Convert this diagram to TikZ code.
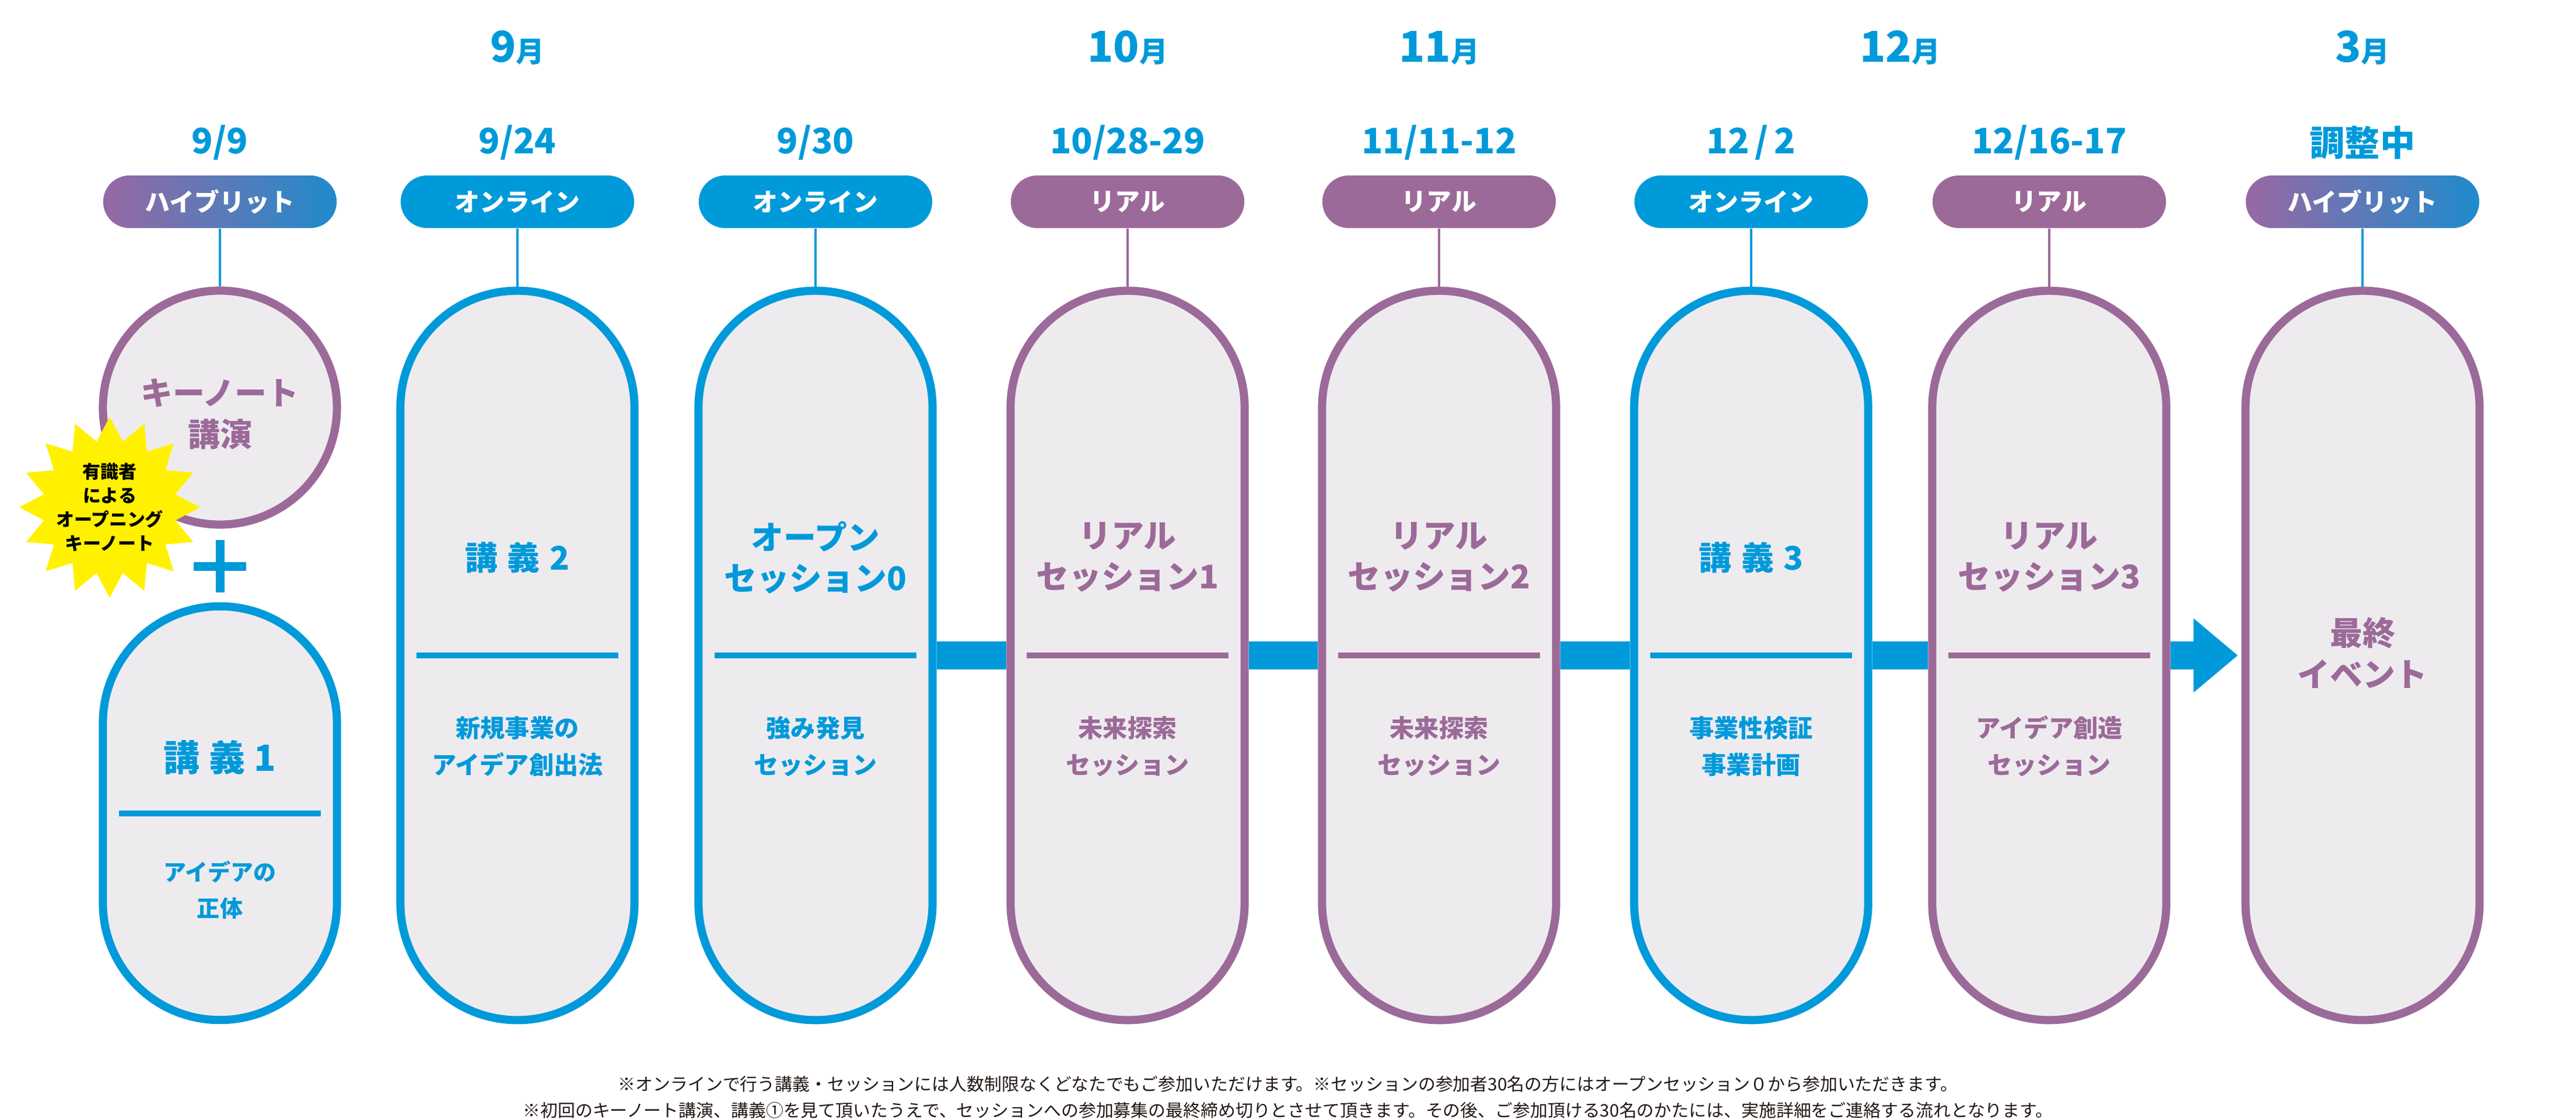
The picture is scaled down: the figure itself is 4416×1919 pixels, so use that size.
\documentclass[tikz,border=0pt]{standalone}
\usepackage{fontspec}
\setmainfont{Noto Sans CJK JP}
\usetikzlibrary{shapes.geometric,arrows.meta}

\definecolor{skyblue}{HTML}{009ADA}
\definecolor{mauve}{HTML}{9C6A99}
\definecolor{capfill}{HTML}{EEEBEF}
\definecolor{mixleft}{HTML}{9868A4}
\definecolor{mixright}{HTML}{1F8BCC}
\definecolor{burstyellow}{HTML}{FFF100}
\definecolor{notegray}{HTML}{231815}

\tikzset{
  pill/.style={rounded corners=0.449cm,minimum width=4cm,minimum height=0.9cm,inner sep=0pt,
    text=white,font=\bfseries\fontsize{12.2}{14}\selectfont},
  pillblue/.style={pill,fill=skyblue},
  pillmauve/.style={pill,fill=mauve},
  pillmix/.style={pill,left color=mixleft,right color=mixright},
  capsule/.style={draw,line width=0.14cm,fill=capfill,rounded corners=2cm,
    minimum width=4.01cm,minimum height=12.5cm,inner sep=0pt},
  head/.style={align=center,inner sep=0pt,font=\bfseries\fontsize{15.9}{19.9}\selectfont},
  sub/.style={align=center,inner sep=0pt,font=\bfseries\fontsize{12}{17.9}\selectfont},
  rule/.style={line width=0.1cm},
  link/.style={line width=0.04cm},
  bar/.style={skyblue,line width=0.48cm},
  month/.style={skyblue,inner sep=0pt,font=\bfseries\fontsize{20.8}{22}\selectfont},
  day/.style={skyblue,inner sep=0pt,font=\bfseries\fontsize{17.1}{19}\selectfont}
}

\begin{document}
\begin{tikzpicture}[x=0.01cm,y=-0.01cm,line cap=butt]
        \useasboundingbox (0,0) rectangle (4416,1919);
        % months
        \node[month] at (887,82) {9{\fontsize{13.9}{14}\selectfont 月}};
        \node[month] at (1933,82) {10{\fontsize{13.9}{14}\selectfont 月}};
        \node[month] at (2467,82) {11{\fontsize{13.9}{14}\selectfont 月}};
        \node[month] at (3257,82) {12{\fontsize{13.9}{14}\selectfont 月}};
        \node[month] at (4050,82) {3{\fontsize{13.9}{14}\selectfont 月}};
        % dates
        \node[day] at (377,245) {9/9};
        \node[day] at (887,245) {9/24};
        \node[day] at (1398,245) {9/30};
        \node[day] at (1933,245) {10/28-29};
        \node[day] at (2467,245) {11/11-12};
        \node[day] at (3002,245) {12\,/\,2};
        \node[day] at (3513,245) {12/16-17};
        \node[day] at (4050,245) {調整中};
        % first column
        \node[circle,draw=mauve,line width=0.14cm,fill=capfill,minimum size=4.01cm,inner sep=0pt] (keynote) at (377,699) {};
        \node[head,text=mauve,font=\bfseries\fontsize{15.6}{20.2}\selectfont] at ([yshift=-0.11cm]keynote.center) {キーノート\\講演};
        \node[star,star points=16,star point ratio=1.35,minimum size=3.1cm,fill=burstyellow,inner sep=0pt] (burst) at (188,870) {};
        \node[align=center,inner sep=0pt,font=\bfseries\fontsize{8.8}{11.7}\selectfont] at (burst.center) {有識者\\による\\オープニング\\キーノート};
        \draw[skyblue,line width=0.15cm] (332,971) -- (422,971);
        \draw[skyblue,line width=0.15cm] (377,926) -- (377,1016);
        \node[capsule,draw=skyblue,minimum height=7.09cm] (lec1) at (377,1394.5) {};
        \node[head,text=skyblue,font=\bfseries\fontsize{17.6}{20}\selectfont] at ([yshift=0.96cm]lec1.center) {講\hspace{0.25em}義\hspace{0.25em}1};
        \node[sub,text=skyblue,font=\bfseries\fontsize{11.1}{17.6}\selectfont] at ([yshift=-1.32cm]lec1.center) {アイデアの\\正体};
        \draw[rule,skyblue] ([xshift=-1.73cm]lec1.center) -- ([xshift=1.73cm]lec1.center);
        % sessions
        \foreach \nm/\x/\clr/\hd/\sb in {
          lec2/887/skyblue/{講\hspace{0.3em}義\hspace{0.3em}2}/{新規事業の\\アイデア創出法},
          open0/1398/skyblue/{オープン\\セッション0}/{強み発見\\セッション},
          real1/1933/mauve/{リアル\\セッション1}/{未来探索\\セッション},
          real2/2467/mauve/{リアル\\セッション2}/{未来探索\\セッション},
          lec3/3002/skyblue/{講\hspace{0.3em}義\hspace{0.3em}3}/{事業性検証\\事業計画},
          real3/3513/mauve/{リアル\\セッション3}/{アイデア創造\\セッション}}
        {
          \node[capsule,draw=\clr] (\nm) at (\x,1124) {};
          \node[head,text=\clr] at ([yshift=1.68cm]\nm.center) {\hd};
          \node[sub,text=\clr] at ([yshift=-1.56cm]\nm.center) {\sb};
          \draw[rule,\clr] ([xshift=-1.73cm]\nm.center) -- ([xshift=1.73cm]\nm.center);
        }
        \node[capsule,draw=mauve] (final) at (4050,1124) {};
        \node[head,text=mauve,font=\bfseries\fontsize{15.9}{20.2}\selectfont] at ([yshift=0.04cm]final.center) {最終\\イベント};
        % pills and links
        \foreach \n/\x/\tgt/\clr/\sty/\kind in {
          0/377/keynote/skyblue/pillmix/ハイブリット,
          1/887/lec2/skyblue/pillblue/オンライン,
          2/1398/open0/skyblue/pillblue/オンライン,
          3/1933/real1/mauve/pillmauve/リアル,
          4/2467/real2/mauve/pillmauve/リアル,
          5/3002/lec3/skyblue/pillblue/オンライン,
          6/3513/real3/mauve/pillmauve/リアル,
          7/4050/final/skyblue/pillmix/ハイブリット}
        {
          \node[\sty] (p\n) at (\x,346) {\kind};
          \draw[link,\clr] (p\n) -- (\tgt);
        }
        % flow bars
        \draw[bar] (open0) -- (real1);
        \draw[bar] (real1) -- (real2);
        \draw[bar] (real2) -- (lec3);
        \draw[bar] (lec3) -- (real3);
        \draw[bar,-{Triangle[length=0.76cm,width=1.22cm]},shorten >=0.06cm] (real3) -- (final);
        % notes
        \node[align=center,inner sep=0pt,text=notegray,font=\fontsize{8.5}{12.8}\selectfont] (notes) at (2208,1882)
          {※オンラインで行う講義・セッションには人数制限なくどなたでもご参加いただけます。※セッションの参加者30名の方にはオープンセッション０から参加いただきます。\\
           ※初回のキーノート講演、講義①を見て頂いたうえで、セッションへの参加募集の最終締め切りとさせて頂きます。その後、ご参加頂ける30名のかたには、実施詳細をご連絡する流れとなります。};
\end{tikzpicture}
\end{document}
